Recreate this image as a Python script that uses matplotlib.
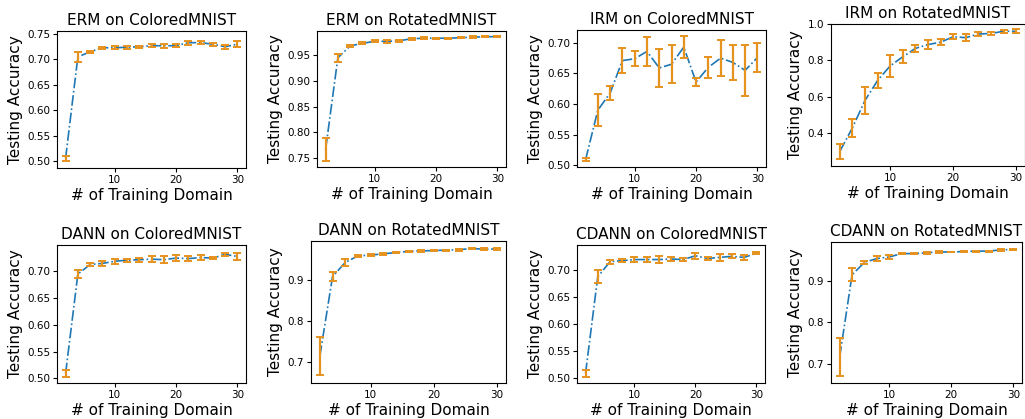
import numpy as np
import matplotlib
matplotlib.use("Agg")
import matplotlib.pyplot as plt

# number of training domains
domains = [2, 4, 6, 8, 10, 12, 14, 16, 18, 20, 22, 24, 26, 28, 30]

erm_cm = [0.505, 0.705, 0.715, 0.723, 0.723, 0.724, 0.725, 0.727, 0.727, 0.727, 0.733, 0.733, 0.730, 0.725, 0.730]
erm_cm_err = [0.005, 0.010, 0.002, 0.002, 0.003, 0.003, 0.002, 0.003, 0.004, 0.003, 0.004, 0.003, 0.003, 0.004, 0.006]

erm_rm = [0.767, 0.945, 0.968, 0.973, 0.977, 0.977, 0.978, 0.982, 0.983, 0.983, 0.983, 0.984, 0.985, 0.986, 0.986]
erm_rm_err = [0.023, 0.008, 0.002, 0.002, 0.002, 0.003, 0.002, 0.002, 0.002, 0.001, 0.001, 0.001, 0.002, 0.001, 0.001]

irm_cm = [0.509, 0.590, 0.618, 0.671, 0.674, 0.686, 0.659, 0.665, 0.693, 0.636, 0.660, 0.675, 0.668, 0.655, 0.676]
irm_cm_err = [0.003, 0.026, 0.011, 0.021, 0.012, 0.024, 0.031, 0.031, 0.018, 0.007, 0.017, 0.030, 0.028, 0.042, 0.024]

irm_rm = [0.300, 0.430, 0.580, 0.690, 0.770, 0.820, 0.866, 0.887, 0.900, 0.930, 0.925, 0.945, 0.948, 0.960, 0.960]
irm_rm_err = [0.043, 0.050, 0.072, 0.040, 0.062, 0.035, 0.018, 0.025, 0.017, 0.013, 0.020, 0.011, 0.010, 0.008, 0.010]

dann_cm = [0.509, 0.695, 0.713, 0.715, 0.719, 0.721, 0.722, 0.723, 0.722, 0.725, 0.724, 0.726, 0.725, 0.732, 0.728]
dann_cm_err = [0.006, 0.008, 0.003, 0.004, 0.005, 0.003, 0.004, 0.005, 0.006, 0.005, 0.005, 0.005, 0.002, 0.003, 0.006]

dann_rm = [0.715, 0.907, 0.941, 0.957, 0.959, 0.962, 0.965, 0.968, 0.969, 0.970, 0.971, 0.972, 0.975, 0.973, 0.974]
dann_rm_err = [0.046, 0.011, 0.008, 0.003, 0.003, 0.003, 0.002, 0.002, 0.002, 0.002, 0.001, 0.002, 0.002, 0.002, 0.002]

cdann_cm = [0.509, 0.688, 0.716, 0.718, 0.720, 0.720, 0.720, 0.721, 0.720, 0.727, 0.722, 0.724, 0.726, 0.724, 0.732]
cdann_cm_err = [0.006, 0.012, 0.004, 0.003, 0.005, 0.005, 0.006, 0.004, 0.003, 0.006, 0.003, 0.006, 0.004, 0.005, 0.002]

cdann_rm = [0.717, 0.915, 0.945, 0.954, 0.958, 0.966, 0.966, 0.968, 0.970, 0.970, 0.971, 0.972, 0.972, 0.975, 0.976]
cdann_rm_err = [0.046, 0.016, 0.004, 0.006, 0.004, 0.002, 0.002, 0.002, 0.002, 0.001, 0.001, 0.001, 0.001, 0.002, 0.002]

panels = [
    ("ERM on ColoredMNIST", erm_cm, erm_cm_err, (0.486, 0.756)),
    ("ERM on RotatedMNIST", erm_rm, erm_rm_err, (0.733, 0.997)),
    ("IRM on ColoredMNIST", irm_cm, irm_cm_err, (0.497, 0.721)),
    ("IRM on RotatedMNIST", irm_rm, irm_rm_err, (0.22, 1.0)),
    ("DANN on ColoredMNIST", dann_cm, dann_cm_err, (0.491, 0.7495)),
    ("DANN on RotatedMNIST", dann_rm, dann_rm_err, (0.650, 0.993)),
    ("CDANN on ColoredMNIST", cdann_cm, cdann_cm_err, (0.491, 0.747)),
    ("CDANN on RotatedMNIST", cdann_rm, cdann_rm_err, (0.654, 0.994)),
]

# axes boxes in pixels: left, top, right, bottom (image coords)
W, H = 1025, 419
boxes = [
    (57, 31, 246, 168), (317, 31, 506, 167), (577, 30, 766, 167), (831, 24, 1025, 166),
    (57, 245, 246, 383), (311, 241, 506, 383), (577, 245, 765, 383), (831, 242, 1022, 383),
]

fig = plt.figure(figsize=(W / 100, H / 100), dpi=100)
for (title, y, e, ylim), (l, t, r, b) in zip(panels, boxes):
    ax = fig.add_axes([l / W, 1 - b / H, (r - l) / W, (b - t) / H])
    ax.plot(domains, y, ls="-.", color="#1f77b4", lw=1.2)
    ax.errorbar(domains, y, yerr=e, fmt="none", ecolor="#e6921e",
                elinewidth=1.6, capsize=3, capthick=1.4)
    ax.set_title(title, fontsize=11, pad=4)
    ax.set_xlabel("# of Training Domain", fontsize=11, labelpad=2)
    ax.set_ylabel("Testing Accuracy", fontsize=11, labelpad=3)
    ax.tick_params(labelsize=7.5, length=3, pad=2)
    ax.set_xticks([10, 20, 30])
    ax.set_xlim(0.6, 31.4)
    ax.set_ylim(*ylim)

fig.savefig("out.png", dpi=100)
